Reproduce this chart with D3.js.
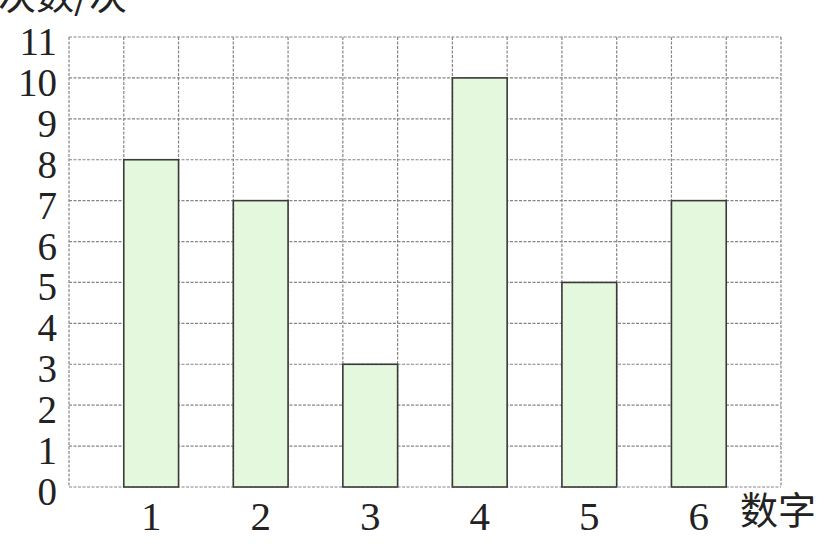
<!DOCTYPE html>
<html>
<head>
<meta charset="utf-8">
<script src="https://cdn.jsdelivr.net/npm/d3@7"></script>
<style>
  body { margin:0; background:#fff; }
</style>
</head>
<body>
<div id="wrap"></div>
<script>
var categories = ["1", "2", "3", "4", "5", "6"];
var counts = [8, 7, 3, 10, 5, 7];
var yTicks = [0, 1, 2, 3, 4, 5, 6, 7, 8, 9, 10, 11];
var yTitle = "次数/次";
var xTitle = "数字";

var bar_fill = "#e3f8dc";
var grid_color = "#858585";
var num_font = "'Liberation Serif', 'DejaVu Serif', serif";
var cjk_font = "'Noto Sans CJK SC', sans-serif";

// plot box (note: "top" is taken by window.top)
var plotLeft = 69, plotRight = 781, plotTop = 37, plotBottom = 487;

var svg = d3.select('#wrap')
  .append('svg')
  .attr("width", 835)
  .attr("height", 547);

var x = d3.scaleBand()
  .domain(categories)
  .range([plotLeft, plotRight])
  .paddingInner(0.5)
  .paddingOuter(0.5);

var y = d3.scaleLinear()
  .domain([0, 11])
  .range([plotBottom, plotTop]);

// half-step columns for the grid
var gx = d3.scaleLinear()
  .domain([0, categories.length * 2 + 1])
  .range([plotLeft, plotRight]);

var grid = svg.append("g")
  .attr("stroke", grid_color)
  .attr("stroke-width", 1.2)
  .attr("stroke-dasharray", "3,1.5");

grid.selectAll(".hl")
  .data(yTicks)
  .enter().append("line")
  .attr("x1", plotLeft).attr("x2", plotRight)
  .attr("y1", function(d) { return y(d); })
  .attr("y2", function(d) { return y(d); });

grid.selectAll(".vl")
  .data(d3.range(0, categories.length * 2 + 2))
  .enter().append("line")
  .attr("y1", plotTop).attr("y2", plotBottom)
  .attr("x1", function(d) { return gx(d); })
  .attr("x2", function(d) { return gx(d); });

svg.selectAll(".bar")
  .data(counts)
  .enter().append("rect")
  .attr("x", function(d, i) { return x(categories[i]); })
  .attr("y", function(d) { return y(d); })
  .attr("width", x.bandwidth())
  .attr("height", function(d) { return y(0) - y(d); })
  .attr("fill", bar_fill)
  .attr("stroke", "#3a3a3a")
  .attr("stroke-width", 1.6);

// y tick labels
svg.selectAll(".ylab")
  .data(yTicks)
  .enter().append("text")
  .attr("x", 57)
  .attr("y", function(d) { return y(d) + 18; })
  .attr("text-anchor", "end")
  .attr("font-family", num_font)
  .attr("font-size", "39px")
  .attr("fill", "#222")
  .text(function(d) { return d; });

// x tick labels
svg.selectAll(".xlab")
  .data(categories)
  .enter().append("text")
  .attr("x", function(d) { return x(d) + x.bandwidth() / 2; })
  .attr("y", 530)
  .attr("text-anchor", "middle")
  .attr("font-family", num_font)
  .attr("font-size", "41px")
  .attr("fill", "#222")
  .text(function(d) { return d; });

svg.append("text")
  .attr("x", 740)
  .attr("y", 524)
  .attr("font-family", cjk_font)
  .attr("font-size", "38px")
  .attr("fill", "#222")
  .text(xTitle);

svg.append("text")
  .attr("x", -2)
  .attr("y", 9)
  .attr("font-family", cjk_font)
  .attr("font-size", "38px")
  .attr("fill", "#222")
  .text(yTitle);
</script>
</body>
</html>
